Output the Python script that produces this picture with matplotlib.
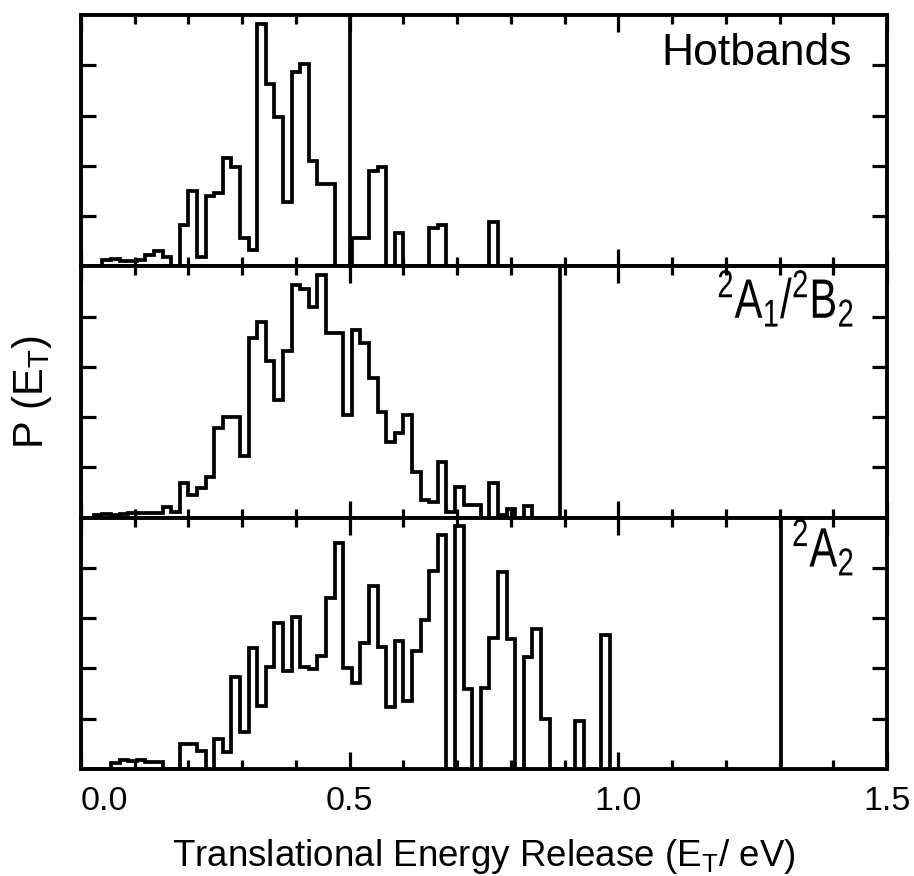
import numpy as np
import matplotlib
matplotlib.use("Agg")
import matplotlib.pyplot as plt
from matplotlib.font_manager import FontProperties
from matplotlib.patches import PathPatch
from matplotlib.textpath import TextPath
from matplotlib.ticker import MultipleLocator, FixedLocator
from matplotlib.transforms import Affine2D

plt.rcParams["font.family"] = ["Liberation Sans", "DejaVu Sans"]

# P(E_T) histograms, 0.016 eV bins centred on multiples of the bin width
BIN_WIDTH = 0.016

hotbands = [0, 0, 0, 0.13, 0.15, 0.10, 0.11, 0.13, 0.23, 0.30,
            0.18, 0, 0.83, 1.50, 0.18, 1.40, 1.45, 2.15, 1.97, 0.57,
            0.33, 4.83, 3.63, 2.97, 1.27, 3.87, 4.03, 2.10, 1.63, 1.63,
            0, 0, 0.57, 0.57, 1.90, 1.97, 0, 0.67, 0, 0,
            0, 0.77, 0.83, 0, 0, 0, 0, 0, 0.88]

a1_b2 = [0, 0, 0.06, 0.08, 0.05, 0.08, 0.10, 0.10, 0.10, 0.10,
         0.22, 0.12, 0.68, 0.46, 0.60, 0.81, 1.79, 2.00, 2.00, 1.23,
         3.57, 3.89, 3.12, 2.34, 3.32, 4.62, 4.55, 4.20, 4.82, 3.67,
         3.67, 2.04, 3.73, 3.47, 2.77, 2.11, 1.50, 1.68, 2.04, 0.91,
         0.35, 0.32, 1.11, 0.12, 0.61, 0.25, 0.25, 0, 0.68, 0.05,
         0.18, 0, 0.24]

a2 = [0, 0, 0, 0, 0.12, 0.17, 0.15, 0.17, 0.14, 0.14,
      0, 0, 0.49, 0.50, 0.35, 0, 0.59, 0.34, 1.83, 0.74,
      2.41, 1.25, 2.02, 2.91, 1.94, 3.02, 2.03, 1.99, 2.24, 3.41,
      4.50, 2.01, 1.72, 2.50, 3.65, 2.42, 1.23, 2.55, 1.35, 2.34,
      2.97, 3.94, 4.65, 0, 4.83, 1.59, 0, 1.61, 2.61, 3.92,
      2.59, 0, 2.22, 2.79, 0.99, 0, 0, 0, 0.95, 0,
      0, 2.67]

labels = ["Hotbands", r"$\mathregular{^2A_1/^2B_2}$", r"$\mathregular{^2A_2}$"]
label_y = [0.800, 0.795, 0.805]
thresholds = [0.5, 0.892, 1.302]   # available energy markers (eV)

LW = 2.7

fig, axes = plt.subplots(3, 1, figsize=(9.14, 8.76), dpi=100, sharex=True)
fig.subplots_adjust(left=81 / 914, right=887 / 914, top=1 - 15 / 876,
                    bottom=1 - 769 / 876, hspace=0)


def squeezed_label(ax, x, y, s, size, xscale):
    """Right-aligned label, narrowed horizontally; (x, y) = lower right corner in axes coords."""
    path = TextPath((0, 0), s, size=size,
                    prop=FontProperties(family="Liberation Sans"))
    ext = path.get_extents()
    pt = fig.dpi / 72
    x0, y0 = ax.transAxes.transform((x, y))
    tr = Affine2D().translate(-ext.x1, 0).scale(xscale * pt, pt).translate(x0, y0)
    ax.add_patch(PathPatch(path, transform=tr, facecolor="black",
                           edgecolor="none", clip_on=False))


for i, (ax, values, e_max) in enumerate(zip(axes, [hotbands, a1_b2, a2], thresholds)):
    values = np.asarray(values, dtype=float)
    edges = (np.arange(len(values) + 1) - 0.5) * BIN_WIDTH
    ax.stairs(values, edges, baseline=0, fill=False, color="black", lw=LW)
    ax.axvline(e_max, color="black", lw=LW)

    ax.set_xlim(0, 1.5)
    ax.set_ylim(0, 5)
    ax.xaxis.set_major_locator(MultipleLocator(0.5))
    ax.xaxis.set_minor_locator(MultipleLocator(0.1))
    ax.yaxis.set_major_locator(FixedLocator([1, 2, 3, 4]))
    ax.set_yticklabels([])
    ax.tick_params(which="both", direction="in", top=True, right=True,
                   width=2.3, color="black")
    ax.tick_params(axis="x", which="major", length=12)
    ax.tick_params(axis="x", which="minor", length=6.5)
    ax.tick_params(axis="y", which="major", length=11)
    for spine in ax.spines.values():
        spine.set_linewidth(2.8)

    if i == 0:
        ax.text(0.957, label_y[i], labels[i], transform=ax.transAxes,
                ha="right", va="baseline", fontsize=32)
    else:
        squeezed_label(ax, 0.957, label_y[i], labels[i], size=40, xscale=0.75)

bottom = axes[-1]
bottom.tick_params(axis="x", labelsize=24.5, pad=12)
bottom.set_xticks([0, 0.5, 1.0, 1.5])
bottom.set_xticklabels(["0.0", "0.5", "1.0", "1.5"])
bottom.get_xticklabels()[0].set_ha("left")
bottom.set_xlabel(r"Translational Energy Release (E$_\mathregular{T}$/ eV)",
                  fontsize=26.5, labelpad=15)
for ax in axes[:-1]:
    ax.tick_params(axis="x", labelbottom=False)

axes[1].set_ylabel(r"P (E$_\mathregular{T}$)", fontsize=30, labelpad=16)

fig.savefig("out.png", dpi=100, facecolor="white")
